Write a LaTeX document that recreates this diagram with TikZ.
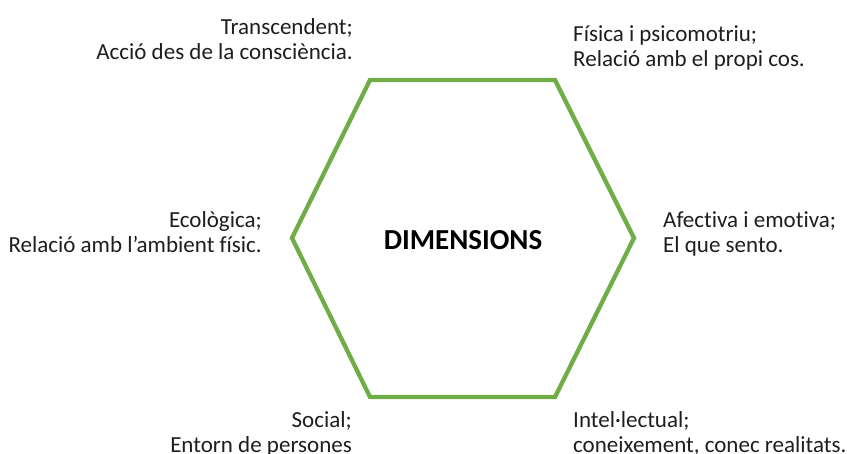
\documentclass[tikz,border=0pt]{standalone}
\usepackage{fontspec}
\setmainfont{Carlito}[Ligatures=NoCommon]
\definecolor{hexgreen}{HTML}{70AD47}
\definecolor{txt}{HTML}{1E1E1E}
\begin{document}
\begin{tikzpicture}[x=1pt,y=-1pt,
  lbl/.style={inner sep=0pt, text=txt, font=\fontsize{23}{25}\selectfont},
  lblR/.style={lbl, align=right, anchor=base east},
  lblL/.style={lbl, align=left, anchor=base west},
  hexline/.style={draw=hexgreen, line width=4.3pt, line join=miter}]
\useasboundingbox (0,0) rectangle (847,454);
\coordinate (v1) at (370,80);
\coordinate (v2) at (555,80);
\coordinate (v3) at (634,238);
\coordinate (v4) at (555,397);
\coordinate (v5) at (370,397);
\coordinate (v6) at (292,238);
\draw[hexline] (v1) -- (v2) -- (v3) -- (v4) -- (v5) -- (v6) -- cycle;
\node[inner sep=0pt, text=black, font=\fontsize{29}{32}\selectfont\bfseries, anchor=base] (center) at (463,250) {DIMENSIONS};
\node[lblR] (transc) at (353,60) {Transcendent;\\Acció des de la consciència.};
\node[lblL] (fisica) at (573,67) {Física i psicomotriu;\\Relació amb el propi cos.};
\node[lblR] (ecol) at (262,253) {Ecològica;\\Relació amb l’ambient físic.};
\node[lblL] (afect) at (663,253) {Afectiva i emotiva;\\El que sento.};
\node[lblR] (social) at (352,453) {Social;\\Entorn de persones};
\node[lblL] (intel) at (573,453) {Intel·lectual;\\coneixement, conec realitats.};
\end{tikzpicture}
\end{document}
